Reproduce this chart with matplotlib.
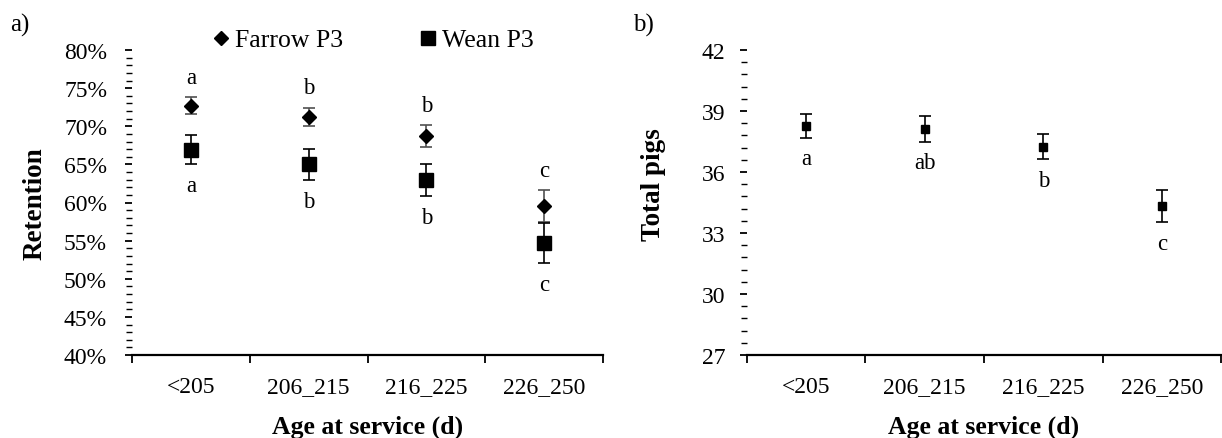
import matplotlib
matplotlib.use("Agg")
import matplotlib.pyplot as plt
from matplotlib.ticker import FixedLocator, MultipleLocator, FuncFormatter
from matplotlib.lines import Line2D
import numpy as np

plt.rcParams['font.family'] = ['Liberation Serif', 'DejaVu Serif']
plt.rcParams['font.size'] = 17

categories = ["<205", "206_215", "216_225", "226_250"]

farrow_p3 = [72.7, 71.2, 68.7, 59.5]
farrow_err = [1.1, 1.2, 1.4, 2.1]
farrow_letters = ["a", "b", "b", "c"]

wean_p3 = [66.9, 65.0, 62.9, 54.7]
wean_err = [1.9, 2.0, 2.1, 2.6]
wean_letters = ["a", "b", "b", "c"]

total_pigs = [38.27, 38.12, 37.25, 34.32]
total_err = [0.6, 0.62, 0.63, 0.8]
total_letters = ["a", "ab", "b", "c"]

W, H = 1222, 439
fig = plt.figure(figsize=(W / 100, H / 100), dpi=100)

TICK_FS = 17
LET_FS = 16.5
LAB_FS = 18.5

def style_axes(ax):
    n = len(categories)
    x = np.arange(n)
    ax.set_xlim(-0.5, n - 0.5)
    for s in ['top', 'right', 'left']:
        ax.spines[s].set_visible(False)
    ax.spines['bottom'].set_linewidth(1.6)
    ax.xaxis.set_major_locator(FixedLocator(np.arange(n + 1) - 0.5))
    ax.set_xticklabels([], minor=False)
    ax.set_xticks(x, categories, minor=True)
    ax.tick_params(axis='x', which='major', length=6, width=1.3, direction='out')
    ax.tick_params(axis='x', which='minor', length=0, pad=15, labelsize=TICK_FS)
    ax.tick_params(axis='y', which='major', length=5, width=1.3, direction='out', labelsize=TICK_FS)
    ax.tick_params(axis='y', which='minor', length=4, width=1.0, direction='out')
    ax.set_xlabel("Age at service (d)", fontweight='bold', fontsize=LAB_FS, va='center')
    ax.xaxis.set_label_coords(0.5, (356 - 427) / 305)
    return x

# ---- panel a ----
ax1 = fig.add_axes([132 / W, 1 - 356 / H, (603 - 132) / W, (356 - 51) / H])
x = style_axes(ax1)
ax1.set_ylim(40, 80)
ax1.yaxis.set_major_locator(MultipleLocator(5))
ax1.yaxis.set_minor_locator(MultipleLocator(1))
ax1.yaxis.set_major_formatter(FuncFormatter(lambda v, p: f"{v:.0f}%"))
ax1.tick_params(axis='y', which='major', pad=13)
ax1.set_ylabel("Retention", fontweight='bold', fontsize=19.5, va='center')
ax1.yaxis.set_label_coords(-0.206, 0.5)

ax1.errorbar(x, farrow_p3, yerr=farrow_err, fmt='D', color='black', ms=7,
             ecolor='#505050', elinewidth=1.2, capsize=4.6, capthick=1.2, zorder=3)
ax1.errorbar(x, wean_p3, yerr=wean_err, fmt='s', color='black', ms=9.5,
             ecolor='black', elinewidth=1.2, capsize=4.6, capthick=1.2, zorder=3)
for xi, v, e, t in zip(x, farrow_p3, farrow_err, farrow_letters):
    ax1.annotate(t, (xi, v + e), xytext=(0, 14.5), textcoords='offset points',
                 ha='center', va='center', fontsize=LET_FS)
for xi, v, e, t in zip(x, wean_p3, wean_err, wean_letters):
    ax1.annotate(t, (xi, v - e), xytext=(0, -15.5), textcoords='offset points',
                 ha='center', va='center', fontsize=LET_FS)

h1 = Line2D([], [], marker='D', color='black', ls='none', ms=7.6)
h2 = Line2D([], [], marker='s', color='black', ls='none', ms=10)
fig.legend([h1, h2], ["Farrow P3", "Wean P3"], loc='center',
           bbox_to_anchor=(372 / W, 1 - 41 / H), ncol=2, frameon=False,
           handlelength=0.8, handletextpad=0.15, columnspacing=2.9,
           fontsize=LAB_FS, borderpad=0, borderaxespad=0)

fig.text(10 / W, 1 - 25 / H, "a)", fontsize=18, va='center', ha='left')

# ---- panel b ----
ax2 = fig.add_axes([747 / W, 1 - 356 / H, (1221 - 747) / W, (356 - 51) / H])
x = style_axes(ax2)
ax2.set_ylim(27, 42)
ax2.yaxis.set_major_locator(MultipleLocator(3))
ax2.yaxis.set_minor_locator(MultipleLocator(0.6))
ax2.tick_params(axis='y', which='major', pad=10.5)
ax2.set_ylabel("Total pigs", fontweight='bold', fontsize=19.5, va='center')
ax2.yaxis.set_label_coords(-0.198, 0.563)

ax2.errorbar(x, total_pigs, yerr=total_err, fmt='s', color='black', ms=6,
             ecolor='black', elinewidth=1.2, capsize=4.0, capthick=1.2, zorder=3)
for xi, v, e, t in zip(x, total_pigs, total_err, total_letters):
    ax2.annotate(t, (xi, v - e), xytext=(0, -15), textcoords='offset points',
                 ha='center', va='center', fontsize=LET_FS)

fig.text(633 / W, 1 - 25 / H, "b)", fontsize=18, va='center', ha='left')

fig.savefig("out.png", dpi=100)
